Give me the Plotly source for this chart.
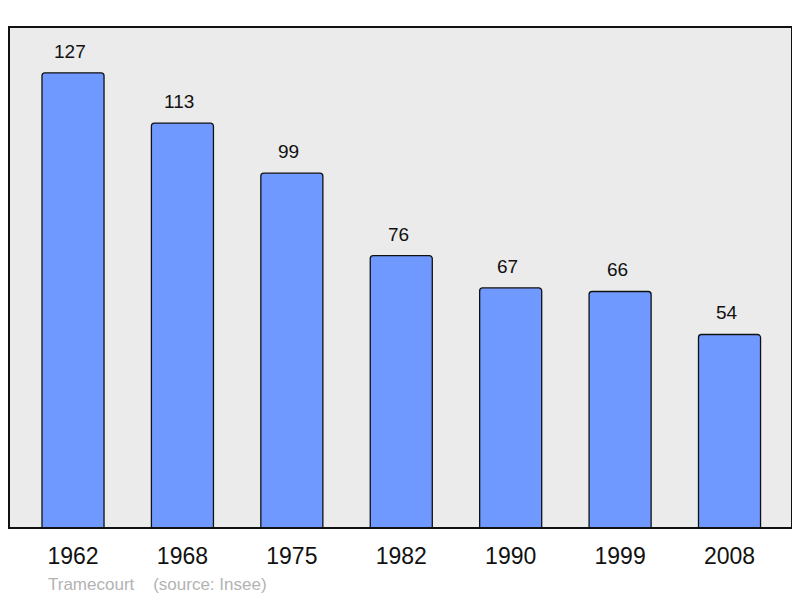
import plotly.graph_objects as go

years = ["1962", "1968", "1975", "1982", "1990", "1999", "2008"]
population = [127, 113, 99, 76, 67, 66, 54]
commune = "Tramecourt"
source = "(source: Insee)"

fig = go.Figure()
fig.add_trace(go.Bar(
    x=years, y=population, width=0.567,
    marker=dict(color="#7099ff", line=dict(color="#111111", width=1.3), cornerradius=3),
    hoverinfo="skip",
))
for i, v in enumerate(population):
    fig.add_annotation(x=i, y=v, text=str(v), showarrow=False, yanchor="bottom",
                       yshift=9, xshift=-3,
                       font=dict(size=19, color="#111111", family="Liberation Sans, Arial"))

fig.add_shape(type="rect", xref="paper", yref="paper", x0=0, y0=0, x1=1, y1=1,
              line=dict(color="#111111", width=2), layer="above")

fig.add_annotation(xref="paper", yref="paper", x=(46-9)/783, y=-(584-528)/501,
                   xanchor="left", yanchor="middle", showarrow=False,
                   text=commune + "&nbsp;&nbsp;&nbsp;&nbsp;" + source,
                   font=dict(size=17, color="#b3b3b3", family="Liberation Sans, Arial"))

fig.update_layout(
    width=792, height=590,
    margin=dict(l=1, r=8, t=19, b=70),
    paper_bgcolor="white", plot_bgcolor="#ebebeb",
    showlegend=False,
    font=dict(family="Liberation Sans, Arial", color="#111111"),
    xaxis=dict(type="category", range=[-0.585, 6.571], showgrid=False, ticks="",
               tickfont=dict(size=23), ticklabelstandoff=12, zeroline=False),
    yaxis=dict(range=[0, 139.8], showgrid=False, showticklabels=False, zeroline=False),
)
fig.write_html("out.html")
